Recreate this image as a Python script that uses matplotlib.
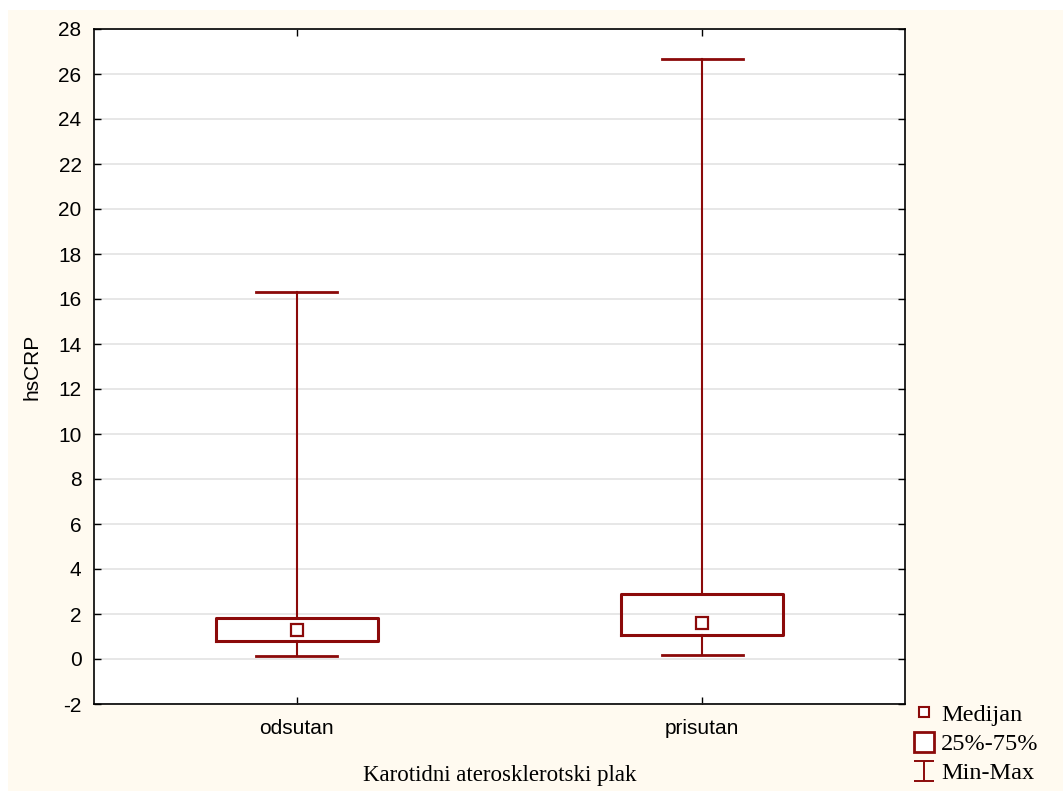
import matplotlib.pyplot as plt
import matplotlib.patches as mpatches
from matplotlib.lines import Line2D
from matplotlib.path import Path

# --- Data ---
groups = ['odsutan', 'prisutan']
medians = [1.30, 1.60]
q1 = [0.80, 1.08]
q3 = [1.82, 2.89]
mins = [0.15, 0.18]
maxs = [16.33, 26.67]
yticks = list(range(-2, 29, 2))

RED = '#8b0a0a'
CREAM = '#fffaf0'

fig = plt.figure(figsize=(10.63, 7.91), dpi=100)
fig.patch.set_facecolor('white')
# cream panel behind everything, leaving a thin white margin top/left
fig.add_artist(mpatches.Rectangle((8 / 1063, 0), 1, 1 - 10 / 791,
                                  transform=fig.transFigure, facecolor=CREAM,
                                  edgecolor='none', zorder=-10))

ax = fig.add_axes([94 / 1063, 1 - 704 / 791, 811 / 1063, 675 / 791])
ax.set_facecolor('white')

stats = []
for i, g in enumerate(groups):
    stats.append(dict(label=g, med=medians[i], q1=q1[i], q3=q3[i],
                      whislo=mins[i], whishi=maxs[i], fliers=[]))

ax.bxp(stats, positions=range(len(groups)), widths=0.4, showfliers=False,
       boxprops=dict(color=RED, linewidth=2.2),
       whiskerprops=dict(color=RED, linewidth=1.5),
       capprops=dict(color=RED, linewidth=2.0),
       medianprops=dict(linewidth=0),
       capwidths=0.2, zorder=3)
ax.plot(range(len(groups)), medians, linestyle='none', marker='s', ms=9,
        mfc='white', mec=RED, mew=1.6, zorder=4)

sans = 'Liberation Sans'
ax.set_xlim(-0.5, 1.5)
ax.set_ylim(-2, 28)
ax.set_yticks(yticks)
ax.set_xticks(range(len(groups)))
ax.set_xticklabels(groups, fontsize=15, family=sans)
ax.set_yticklabels([str(t) for t in yticks], fontsize=15, family=sans)
ax.tick_params(direction='in', length=5, width=1, top=True, right=True)
ax.tick_params(axis='y', pad=9)
ax.tick_params(axis='x', pad=11)
ax.grid(axis='y', color='#e3e3e3', linewidth=1.2, zorder=0)
ax.set_axisbelow(True)
for s in ax.spines.values():
    s.set_linewidth(1.2)

ax.set_ylabel('hsCRP', fontsize=15, family=sans, labelpad=12)
ax.set_xlabel('Karotidni aterosklerotski plak', fontsize=16.5,
              family='Liberation Serif', labelpad=19)

# legend
ibeam = Path([(-1, 1), (1, 1), (0, 1), (0, -1), (-1, -1), (1, -1)],
             [Path.MOVETO, Path.LINETO, Path.MOVETO, Path.LINETO,
              Path.MOVETO, Path.LINETO])
handles = [
    Line2D([], [], linestyle='none', marker='s', ms=7, mfc='white', mec=RED, mew=1.5),
    Line2D([], [], linestyle='none', marker='s', ms=14, mfc='white', mec=RED, mew=2),
    Line2D([], [], linestyle='none', marker=ibeam, ms=14, mec=RED, mew=1.4),
]
leg = fig.legend(handles, ['Medijan', '25%-75%', 'Min-Max'],
                 loc='upper left', bbox_to_anchor=(902 / 1063, 1 - 694 / 791),
                 frameon=False, prop=dict(family='Liberation Serif', size=17.5),
                 handlelength=1.0, handletextpad=0.2, labelspacing=0.3,
                 borderaxespad=0)

fig.savefig('out.png', dpi=100, facecolor=fig.get_facecolor())
